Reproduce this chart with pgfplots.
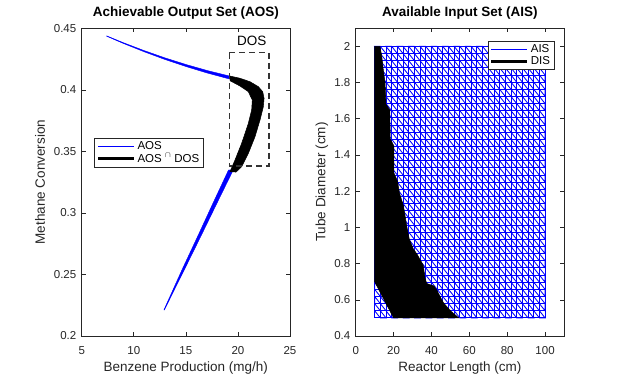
\documentclass[border=0pt]{standalone}
\usepackage{fontspec}
\setmainfont{Liberation Sans}
\usepackage{pgfplots}
\pgfplotsset{compat=1.18}
\definecolor{axgray}{rgb}{0.15,0.15,0.15}
\definecolor{dosgray}{rgb}{0.2,0.2,0.2}

\pgfplotsset{
  mlab/.style={
    scale only axis, width=208.3pt, height=307.7pt,
    anchor=south west,
    axis line style={axgray, line width=0.6pt},
    tick style={axgray, line width=0.6pt},
    tick align=inside, major tick length=4pt,
    ticklabel style={font=\fontsize{11.5}{13}\selectfont, text=axgray},
    xticklabel style={yshift=-6.9pt},
    yticklabel style={xshift=-1.9pt},
    label style={font=\fontsize{13.5}{15}\selectfont, text=axgray},
    title style={font=\bfseries\fontsize{13.5}{15}\selectfont,
      at={(axis description cs:0.5,1)}, anchor=base, yshift=5.8pt},
    xlabel style={at={(axis description cs:0.5,-0.116)}, anchor=base},
    ylabel style={anchor=center},
    legend style={draw=axgray, fill=white, line width=0.5pt,
      font=\fontsize{11.5}{13}\selectfont, inner xsep=2pt, inner ysep=1.5pt,
      row sep=-1.5pt},
    legend cell align=left,
    legend image code/.code={\draw[#1] (0pt,0pt) -- (36pt,0pt);},
  }
}

\begin{document}
\begin{tikzpicture}
\useasboundingbox (0,0) rectangle (624pt,378pt);

% ---------- left: achievable output set ----------
\begin{axis}[mlab, at={(81.7pt,42pt)},
  xmin=5, xmax=25, ymin=0.2, ymax=0.45,
  xtick={5,10,15,20,25}, xticklabels={5,10,15,20,25},
  ytick={0.2,0.25,0.3,0.35,0.4,0.45},
  yticklabels={0.2,0.25,0.3,0.35,0.4,0.45},
  title={Achievable Output Set (AOS)},
  xlabel={Benzene Production (mg/h)},
  ylabel={Methane Conversion},
  ylabel style={at={(axis description cs:-0.2005,0.5)}},
  legend style={at={(axis description cs:0.0605,0.6445)}, anchor=north west},
]
\addlegendimage{blue, line width=0.7pt}
\addlegendentry{AOS}
\addlegendimage{black, line width=3pt}
\addlegendentry{AOS $^{\cap}$ DOS}

% upper branch (outside DOS)
\addplot[fill=blue, draw=blue, line width=0.4pt, forget plot] coordinates {
  (7.40,0.44385) (9.0,0.43829) (11.0,0.43187) (13.0,0.42595) (15.0,0.42062)
  (17.0,0.41580) (19.24,0.41110)
  (19.24,0.40870) (17.0,0.41380) (15.0,0.41898) (13.0,0.42465) (11.0,0.43093)
  (9.0,0.43771) (7.40,0.44355) (7.40,0.44385)};
% lower branch (outside DOS)
\addplot[fill=blue, draw=blue, line width=0.4pt, forget plot] coordinates {
  (12.89,0.2211) (14.62,0.2536) (16.12,0.2807) (17.60,0.3078) (19.10,0.3349)
  (19.55,0.3349) (17.98,0.3078) (16.42,0.2807) (14.84,0.2536) (12.93,0.2211)
  (12.89,0.2211)};
% intersection with DOS
\addplot[fill=black, draw=black, line width=0.5pt, forget plot] coordinates {
  (19.24,0.4112) (20.20,0.4094) (21.16,0.4066) (21.96,0.4026) (22.38,0.3985)
  (22.51,0.3931) (22.44,0.3863) (22.12,0.3755) (21.64,0.3619) (21.00,0.3484)
  (20.36,0.3376) (19.82,0.3332)
  (19.24,0.3335) (19.72,0.3430) (20.36,0.3566) (21.00,0.3728) (21.32,0.3836)
  (21.38,0.3917) (21.00,0.3985) (20.20,0.4031) (19.24,0.4074) (19.24,0.4112)};
% DOS box
\addplot[dosgray, line width=1.2pt, dash pattern=on 6pt off 4pt, forget plot]
  coordinates {(19.17,0.4302) (22.98,0.4302) (22.98,0.3381) (19.17,0.3381) (19.17,0.4302)};
\node[font=\fontsize{13.5}{15}\selectfont] at (axis cs:21.32,0.4397) {DOS};
\end{axis}

% ---------- right: available input set ----------
\begin{axis}[mlab, at={(355.7pt,42pt)},
  xmin=0, xmax=110, ymin=0.4, ymax=2.1,
  xtick={0,20,40,60,80,100}, xticklabels={0,20,40,60,80,100},
  ytick={0.4,0.6,0.8,1,1.2,1.4,1.6,1.8,2},
  yticklabels={0.4,0.6,0.8,1,1.2,1.4,1.6,1.8,2},
  title={Available Input Set (AIS)},
  xlabel={Reactor Length (cm)},
  ylabel={Tube Diameter (cm)},
  ylabel style={at={(axis description cs:-0.162,0.5)}},
  legend style={at={(axis description cs:0.9534,0.9597)}, anchor=north east},
]
\addlegendimage{blue, line width=0.7pt}
\addlegendentry{AIS}
\addlegendimage{black, line width=3pt}
\addlegendentry{DIS}

% AIS mesh: rows
\addplot[blue, line width=0.85pt, forget plot] coordinates {
(10,0.5)(100,0.5)(100,0.5395)(10,0.5395)(10,0.5789)(100,0.5789)(100,0.6184)(10,0.6184)
(10,0.6579)(100,0.6579)(100,0.6974)(10,0.6974)(10,0.7368)(100,0.7368)(100,0.7763)(10,0.7763)
(10,0.8158)(100,0.8158)(100,0.8553)(10,0.8553)(10,0.8947)(100,0.8947)(100,0.9342)(10,0.9342)
(10,0.9737)(100,0.9737)(100,1.0132)(10,1.0132)(10,1.0526)(100,1.0526)(100,1.0921)(10,1.0921)
(10,1.1316)(100,1.1316)(100,1.1711)(10,1.1711)(10,1.2105)(100,1.2105)(100,1.25)(10,1.25)
(10,1.2895)(100,1.2895)(100,1.3289)(10,1.3289)(10,1.3684)(100,1.3684)(100,1.4079)(10,1.4079)
(10,1.4474)(100,1.4474)(100,1.4868)(10,1.4868)(10,1.5263)(100,1.5263)(100,1.5658)(10,1.5658)
(10,1.6053)(100,1.6053)(100,1.6447)(10,1.6447)(10,1.6842)(100,1.6842)(100,1.7237)(10,1.7237)
(10,1.7632)(100,1.7632)(100,1.8026)(10,1.8026)(10,1.8421)(100,1.8421)(100,1.8816)(10,1.8816)
(10,1.9211)(100,1.9211)(100,1.9605)(10,1.9605)(10,2)(100,2)};
% AIS mesh: columns
\addplot[blue, line width=0.85pt, forget plot] coordinates {
(10,0.5)(10,2)(13,2)(13,0.5)(16,0.5)(16,2)(19,2)(19,0.5)(22,0.5)(22,2)(25,2)(25,0.5)
(28,0.5)(28,2)(31,2)(31,0.5)(34,0.5)(34,2)(37,2)(37,0.5)(40,0.5)(40,2)(43,2)(43,0.5)
(46,0.5)(46,2)(49,2)(49,0.5)(52,0.5)(52,2)(55,2)(55,0.5)(58,0.5)(58,2)(61,2)(61,0.5)
(64,0.5)(64,2)(67,2)(67,0.5)(70,0.5)(70,2)(73,2)(73,0.5)(76,0.5)(76,2)(79,2)(79,0.5)
(82,0.5)(82,2)(85,2)(85,0.5)(88,0.5)(88,2)(91,2)(91,0.5)(94,0.5)(94,2)(97,2)(97,0.5)
(100,0.5)(100,2)};
% AIS mesh: diagonals
\addplot[blue, line width=0.85pt, forget plot] coordinates {
(10,0.5395)(13,0.5)(16,0.5)(10,0.5789)(10,0.6184)(19,0.5)(22,0.5)(10,0.6579)
(10,0.6974)(25,0.5)(28,0.5)(10,0.7368)(10,0.7763)(31,0.5)(34,0.5)(10,0.8158)
(10,0.8553)(37,0.5)(40,0.5)(10,0.8947)(10,0.9342)(43,0.5)(46,0.5)(10,0.9737)
(10,1.0132)(49,0.5)(52,0.5)(10,1.0526)(10,1.0921)(55,0.5)(58,0.5)(10,1.1316)
(10,1.1711)(61,0.5)(64,0.5)(10,1.2105)(10,1.25)(67,0.5)(70,0.5)(10,1.2895)
(10,1.3289)(73,0.5)(76,0.5)(10,1.3684)(10,1.4079)(79,0.5)(82,0.5)(10,1.4474)
(10,1.4868)(85,0.5)(88,0.5)(10,1.5263)(10,1.5658)(91,0.5)(94,0.5)(10,1.6053)
(10,1.6447)(97,0.5)(100,0.5)(10,1.6842)(10,1.7237)(100,0.5395)(100,0.5789)(10,1.7632)
(10,1.8026)(100,0.6184)(100,0.6579)(10,1.8421)(10,1.8816)(100,0.6974)(100,0.7368)(10,1.9211)
(10,1.9605)(100,0.7763)(100,0.8158)(10,2)(13,2)(100,0.8553)(100,0.8947)(16,2)
(19,2)(100,0.9342)(100,0.9737)(22,2)(25,2)(100,1.0132)(100,1.0526)(28,2)
(31,2)(100,1.0921)(100,1.1316)(34,2)(37,2)(100,1.1711)(100,1.2105)(40,2)
(43,2)(100,1.25)(100,1.2895)(46,2)(49,2)(100,1.3289)(100,1.3684)(52,2)
(55,2)(100,1.4079)(100,1.4474)(58,2)(61,2)(100,1.4868)(100,1.5263)(64,2)
(67,2)(100,1.5658)(100,1.6053)(70,2)(73,2)(100,1.6447)(100,1.6842)(76,2)
(79,2)(100,1.7237)(100,1.7632)(82,2)(85,2)(100,1.8026)(100,1.8421)(88,2)
(91,2)(100,1.8816)(100,1.9211)(94,2)(97,2)(100,1.9605)};
% DIS region
\addplot[fill=black, draw=black, line width=0.5pt, forget plot] coordinates {
(10,2.0)(12.8,2.0)(13.7,1.95)(14.6,1.87)(15.5,1.80)(16,1.68)(18,1.65)(18.2,1.49)
(20.2,1.45)(20.2,1.30)(22.1,1.255)(23.1,1.19)(25.2,1.12)(26.9,1.01)(28.3,0.935)
(30.5,0.88)(32.5,0.85)(35.7,0.79)(36.6,0.72)(37.5,0.69)(41.4,0.676)(43,0.65)
(46.3,0.584)(50,0.54)(54.4,0.5)(20,0.5)(10,0.7)(10,2.0)};
\end{axis}
\end{tikzpicture}
\end{document}
